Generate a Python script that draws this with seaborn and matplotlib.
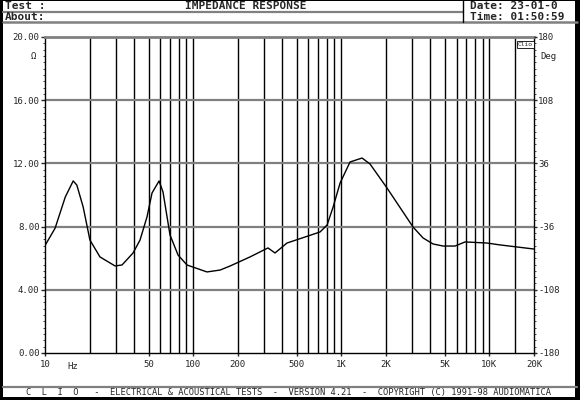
import numpy as np
import pandas as pd
import matplotlib
matplotlib.use('Agg')
import matplotlib.pyplot as plt
import seaborn as sns
from matplotlib.lines import Line2D
from matplotlib.patches import Rectangle

# impedance curve (Hz, ohm)
freq = [10.0, 11.7, 13.7, 15.5, 16.4, 18.1, 20.1, 23.5, 29.7, 33.1, 39.3, 43.8,
        48.8, 52.8, 58.9, 62.6, 69.8, 79.1, 90.9, 124, 152, 178, 242, 320, 357,
        430, 719, 802, 881, 982, 1146, 1382, 1564, 2037, 2613, 3053, 3567, 4168,
        4869, 5866, 6850, 9640, 11800, 15370, 20000]
imp = [6.8, 7.9, 9.87, 10.89, 10.63, 9.24, 7.15, 6.08, 5.51, 5.57, 6.33, 7.15,
       8.61, 10.13, 10.89, 10.19, 7.47, 6.2, 5.57, 5.13, 5.25, 5.51, 6.08, 6.65, 6.33,
       6.96, 7.66, 8.1, 9.24, 10.76, 12.09, 12.34, 11.96, 10.44, 8.92, 7.97, 7.28, 6.9,
       6.77, 6.77, 7.03, 6.96, 6.84, 6.71, 6.58]

x_ticks = [10, 50, 100, 200, 500, 1000, 2000, 5000, 10000, 20000]
x_labels = ['10', '50', '100', '200', '500', '1K', '2K', '5K', '10K', '20K']
y_ticks = [0, 4, 8, 12, 16, 20]
deg_ticks = [-180, -108, -36, 36, 108, 180]

df = pd.DataFrame({'Hz': freq, 'Ohm': imp})

sns.set_style('white')
plt.rcParams['font.family'] = ['DejaVu Sans Mono', 'DejaVu Sans']
W, H = 580, 400
fig = plt.figure(figsize=(5.8, 4), dpi=100)

def px(x, y):
    return x / W, 1 - y / H

ax = fig.add_axes([45 / W, 1 - 353 / H, 489 / W, 316 / H])
sns.lineplot(data=df, x='Hz', y='Ohm', color='black', lw=1, ax=ax)
ax.set_xscale('log')
ax.set_xlim(10, 20000)
ax.set_ylim(0, 20)

# grid: black verticals on every 1-2-3..9 decade line, grey horizontals
vlines = [m * 10 ** d for d in range(1, 5) for m in range(1, 10) if 10 < m * 10 ** d < 20000]
vlines.append(15000)
for v in vlines:
    ax.axvline(v, color='black', lw=1, zorder=1)
for yv in [4, 8, 12, 16]:
    ax.axhline(yv, color='#808080', lw=1.6, zorder=1)

for s in ['left', 'bottom', 'right']:
    ax.spines[s].set_color('black')
    ax.spines[s].set_linewidth(1)
ax.spines['top'].set_color('#808080')
ax.spines['top'].set_linewidth(2)

ax.set_xticks(x_ticks)
ax.set_xticklabels(x_labels)
ax.xaxis.set_minor_locator(matplotlib.ticker.NullLocator())
ax.set_yticks(y_ticks)
ax.set_yticklabels(['%.2f' % v for v in y_ticks])
ax.set_yticks(np.arange(0, 20.01, 0.4), minor=True)
ax.tick_params(axis='y', which='major', length=3, width=1, labelsize=6.5, pad=1, left=True)
ax.tick_params(axis='y', which='minor', length=1.5, width=0.6, left=True)
ax.tick_params(axis='x', which='major', length=2, width=1, labelsize=6.5, pad=3, bottom=True)
ax.set_xlabel('')
ax.set_ylabel('')
ax.text(15.5, -0.55, 'Hz', fontsize=6.5, ha='center', va='top')
ax.text(-0.0245, 0.937, 'Ω', transform=ax.transAxes, fontsize=6.5, ha='center', va='center')

ax2 = ax.twinx()
ax2.set_ylim(-180, 180)
ax2.set_yticks(deg_ticks)
ax2.set_yticklabels([str(v) for v in deg_ticks])
ax2.set_yticks(np.arange(-180, 180.1, 7.2), minor=True)
ax2.tick_params(axis='y', which='major', length=2, width=1, labelsize=6.5, pad=1, right=True)
ax2.tick_params(axis='y', which='minor', length=1.2, width=0.6, right=True)
for s in ax2.spines.values():
    s.set_visible(False)
ax2.text(1.029, 0.937, 'Deg', transform=ax.transAxes, fontsize=6.5, ha='center', va='center')
ax.text(0.982, 0.985, 'Clio', transform=ax.transAxes, fontsize=4.5, ha='center', va='top',
        bbox=dict(boxstyle='square,pad=0.15', fc='white', ec='black', lw=0.6))

# frame, header and footer
def hline(y, x0, x1, color, lw):
    (a, b), (c, _) = px(x0, y), px(x1, y)
    fig.add_artist(Line2D([a, c], [b, b], color=color, lw=lw, transform=fig.transFigure))

hline(11.5, 3, 463, '#808080', 1.6)
hline(22, 3, 577, '#808080', 1.8)
hline(386.5, 3, 577, '#808080', 1.6)
x0, y0 = px(463, 0)
_, y1 = px(463, 22)
fig.add_artist(Line2D([x0, x0], [y0, y1], color='black', lw=1, transform=fig.transFigure))
for (bx, by, bw, bh) in [(0, 0, 3, 400), (575, 0, 5, 400), (0, 0, 580, 1), (0, 397, 580, 3)]:
    fig.add_artist(Rectangle((bx / W, 1 - (by + bh) / H), bw / W, bh / H, color='black',
                             transform=fig.transFigure, lw=0))

hdr = dict(fontsize=8, fontweight='bold', va='center')
fig.text(*px(5, 6), 'Test :', ha='left', **hdr)
fig.text(*px(5, 17), 'About:', ha='left', **hdr)
fig.text(*px(246, 6), 'IMPEDANCE RESPONSE', ha='center', **hdr)
fig.text(*px(470, 6), 'Date: 23-01-0', ha='left', **hdr)
fig.text(*px(470, 17), 'Time: 01:50:59', ha='left', **hdr)
fig.text(*px(288, 392), 'C  L  I  O   -  ELECTRICAL & ACOUSTICAL TESTS  -  VERSION 4.21  -  '
         'COPYRIGHT (C) 1991-98 AUDIOMATICA', ha='center', va='center', fontsize=6.3)

fig.savefig('out.png', dpi=100)
